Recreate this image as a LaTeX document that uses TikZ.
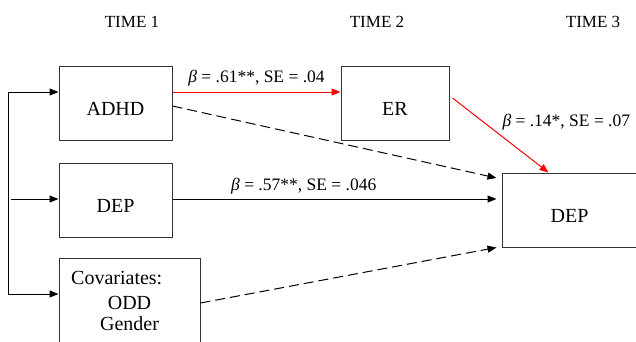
\documentclass[tikz,border=0pt]{standalone}
\usepackage{fontspec}
\setmainfont{Liberation Serif}
\newfontfamily\tms{Liberation Serif}
\usetikzlibrary{arrows.meta}
\tikzset{
  boxnode/.style={draw=black!80, line width=1pt, inner sep=0pt, rectangle},
  boxfont/.style={font=\tms\fontsize{20}{24}\selectfont},
  labfont/.style={font=\tms\fontsize{17.5}{21}\selectfont, inner sep=0pt},
  timefont/.style={font=\tms\fontsize{17}{20}\selectfont, inner sep=0pt, anchor=base},
  arr/.style={line width=1pt, -{Triangle[length=9pt,width=7pt]}},
  redarr/.style={arr, draw=red},
  dasharr/.style={arr, dash pattern=on 10pt off 5pt},
  plain/.style={line width=1pt},
}
\begin{document}
\begin{tikzpicture}[x=1pt, y=-1pt]
\useasboundingbox (0,0) rectangle (636,341);
\clip (0,0) rectangle (636,341);

% time labels
\node[timefont] (t1) at (132,27) {TIME 1};
\node[timefont] (t2) at (377,27) {TIME 2};
\node[timefont] (t3) at (593,27) {TIME 3};

% boxes
\node[boxnode, minimum width=113pt, minimum height=74pt,
  label={[boxfont, yshift=-5.5pt]center:ADHD}] (adhd) at (115.5,103) {};
\node[boxnode, minimum width=108pt, minimum height=74pt,
  label={[boxfont, yshift=-5.5pt]center:ER}] (er) at (395,103) {};
\node[boxnode, minimum width=113pt, minimum height=74pt,
  label={[boxfont, yshift=-5.5pt]center:DEP}] (dep1) at (115.5,200) {};
\node[boxnode, minimum width=141pt, minimum height=94pt] (cov) at (129.5,305) {};
\node[boxnode, minimum width=158pt, minimum height=74pt,
  label={[boxfont, yshift=-5.5pt, xshift=-11.5pt]center:DEP}] (dep3) at (581,210) {};

% covariates text
\node[boxfont, inner sep=0pt, anchor=base west] (covt) at (71,284) {Covariates:};
\node[boxfont, inner sep=0pt, anchor=base] (odd) at (129.5,309) {ODD};
\node[boxfont, inner sep=0pt, anchor=base] (gen) at (129.5,330) {Gender};

% left bracket
\coordinate (b1) at (8,92);
\coordinate (b2) at (11,199);
\coordinate (b3) at (8,294);
\draw[plain] (b1) -- (b3);
\draw[arr] (b1) -- ([yshift=11pt]adhd.west);
\draw[arr] (b2) -- ([yshift=1pt]dep1.west);
\draw[arr] (b3) -- ([yshift=11pt]cov.west);

% paths
\draw[redarr] ([yshift=11pt]adhd.east) -- node[labfont, midway, anchor=base, yshift=10pt] {\textit{β} = .61**, SE = .04} ([yshift=11pt]er.west);
\draw[dasharr] ([yshift=-3pt]adhd.east) -- ([xshift=-5pt,yshift=32pt]dep3.west);
\draw[arr] ([yshift=1pt]dep1.east) -- node[labfont, pos=0.405, anchor=base, yshift=9pt] {\textit{β} = .57**, SE = .046} ([xshift=-5pt,yshift=11pt]dep3.west);
\draw[dasharr] ([yshift=2pt]cov.east) -- ([xshift=-5pt]dep3.south west);
\draw[redarr] ([xshift=3pt,yshift=5pt]er.east) -- node[labfont, midway, anchor=base west, xshift=1.5pt, yshift=8.5pt] {\textit{β} = .14*, SE = .07} ([xshift=47pt]dep3.north west);
\end{tikzpicture}
\end{document}
